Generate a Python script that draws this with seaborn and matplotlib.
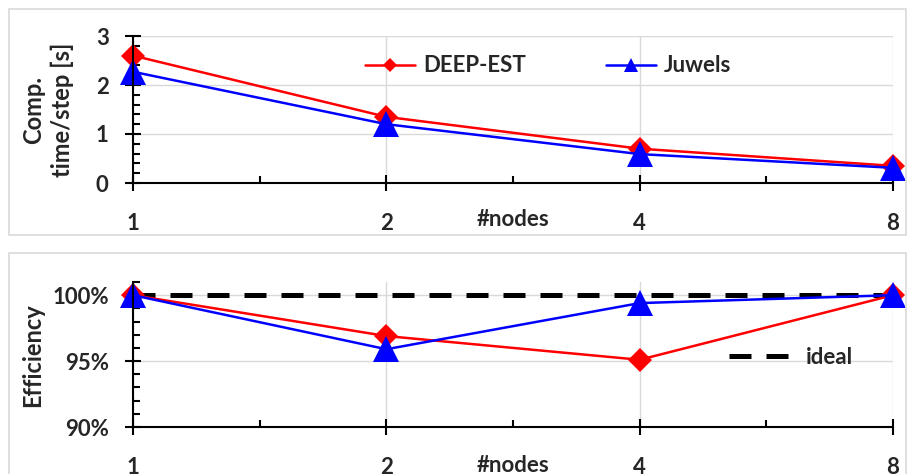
import matplotlib
matplotlib.use('Agg')
import matplotlib.pyplot as plt
import seaborn as sns
from matplotlib.patches import Rectangle
from matplotlib.ticker import FixedLocator, FuncFormatter, MultipleLocator, NullFormatter

# data
nodes = [1, 2, 4, 8]
deep_time = [2.60, 1.35, 0.70, 0.35]
juwels_time = [2.27, 1.20, 0.59, 0.31]
deep_eff = [1.000, 0.969, 0.951, 1.000]
juwels_eff = [1.000, 0.959, 0.994, 1.000]
ideal_eff = [1.0, 1.0, 1.0, 1.0]

sns.set_theme(style='white')
plt.rcParams['font.family'] = ['Lato', 'DejaVu Sans']
plt.rcParams['font.weight'] = 'bold'

W, H = 907, 474
fig = plt.figure(figsize=(W / 100, H / 100), dpi=100)


def px(l, t, r, b):
    return [l / W, 1 - b / H, (r - l) / W, (b - t) / H]


# chart area frames (Excel style)
for (l, t, r, b) in [(9, 9, 906, 235), (9, 253, 906, 490)]:
    fig.patches.append(Rectangle((l / W, 1 - b / H), (r - l) / W, (b - t) / H,
                                 transform=fig.transFigure, fill=False,
                                 edgecolor='#d9d9d9', lw=1.2))

FS = 16


def style(ax):
    ax.set_xscale('log', base=2)
    ax.set_xlim(1, 8)
    ax.xaxis.set_major_locator(FixedLocator(nodes))
    ax.xaxis.set_minor_locator(FixedLocator([2 ** 0.5, 2 ** 1.5, 2 ** 2.5]))
    ax.xaxis.set_major_formatter(FuncFormatter(lambda v, p: f'{v:g}'))
    ax.xaxis.set_minor_formatter(NullFormatter())
    for s in ['top', 'right']:
        ax.spines[s].set_visible(False)
    for s in ['left', 'bottom']:
        ax.spines[s].set_color('black')
        ax.spines[s].set_linewidth(1.5)
    ax.set_axisbelow(True)
    ax.grid(True, which='major', color='#d9d9d9', lw=1)
    ax.tick_params(which='major', direction='inout', length=11, width=1.5,
                   color='black', labelsize=FS, bottom=True, left=True)
    ax.tick_params(which='minor', direction='in', length=5, width=1.5,
                   color='black', bottom=True, left=True)
    ax.tick_params(axis='x', which='major', pad=16)
    ax.tick_params(axis='y', which='major', pad=12)
    ax.set_xlabel('')
    ax.set_ylabel('')


# top: computation time per step
ax1 = fig.add_axes(px(133, 36, 893, 183))
sns.lineplot(x=nodes, y=deep_time, ax=ax1, color='#ff0000', lw=1.8, marker='D',
             markersize=12.5, markeredgewidth=0, clip_on=False, label='DEEP-EST')
sns.lineplot(x=nodes, y=juwels_time, ax=ax1, color='#0000ff', lw=1.8, marker='^',
             markersize=18.5, markeredgewidth=0, clip_on=False, label='Juwels')
style(ax1)
ax1.set_ylim(0, 3)
ax1.yaxis.set_major_locator(MultipleLocator(1))
ax1.yaxis.set_minor_locator(MultipleLocator(0.2))
ax1.legend(loc='center', bbox_to_anchor=(548 / W, 1 - 66 / H), bbox_transform=fig.transFigure,
           ncol=2, frameon=False, fontsize=FS, markerscale=0.55, handlelength=2.25,
           handletextpad=0.35, columnspacing=3.6)

# bottom: efficiency
ax2 = fig.add_axes(px(133, 282, 893, 427))
sns.lineplot(x=nodes, y=ideal_eff, ax=ax2, color='black', lw=3.6,
             linestyle=(0, (4.4, 3)), label='ideal')
sns.lineplot(x=nodes, y=deep_eff, ax=ax2, color='#ff0000', lw=1.8, marker='D',
             markersize=12.5, markeredgewidth=0, clip_on=False, label='_nolegend_')
sns.lineplot(x=nodes, y=juwels_eff, ax=ax2, color='#0000ff', lw=1.8, marker='^',
             markersize=18.5, markeredgewidth=0, clip_on=False, label='_nolegend_')
style(ax2)
ax2.set_ylim(0.90, 1.01)
ax2.yaxis.set_major_locator(FixedLocator([0.90, 0.95, 1.00]))
ax2.yaxis.set_minor_locator(MultipleLocator(0.01))
ax2.yaxis.set_major_formatter(FuncFormatter(lambda v, p: f'{v * 100:.0f}%'))
h, l = ax2.get_legend_handles_labels()
ax2.legend([h[0]], [l[0]], loc='center', bbox_to_anchor=(791 / W, 1 - 357 / H),
           bbox_transform=fig.transFigure, frameon=False, fontsize=FS,
           handlelength=2.65, handletextpad=0.8)

# axis labels
for y in (220, 465):
    fig.text(513 / W, 1 - y / H, '#nodes', ha='center', va='center', fontsize=FS, fontweight='bold')
fig.text(48 / W, 1 - 110 / H, 'Comp.\ntime/step [s]', rotation=90, ha='center', va='center',
         fontsize=FS + 1, fontweight='bold', linespacing=1.3)
fig.text(33 / W, 1 - 355 / H, 'Efficiency', rotation=90, ha='center', va='center',
         fontsize=FS + 1, fontweight='bold')

fig.savefig('out.png', dpi=100)
